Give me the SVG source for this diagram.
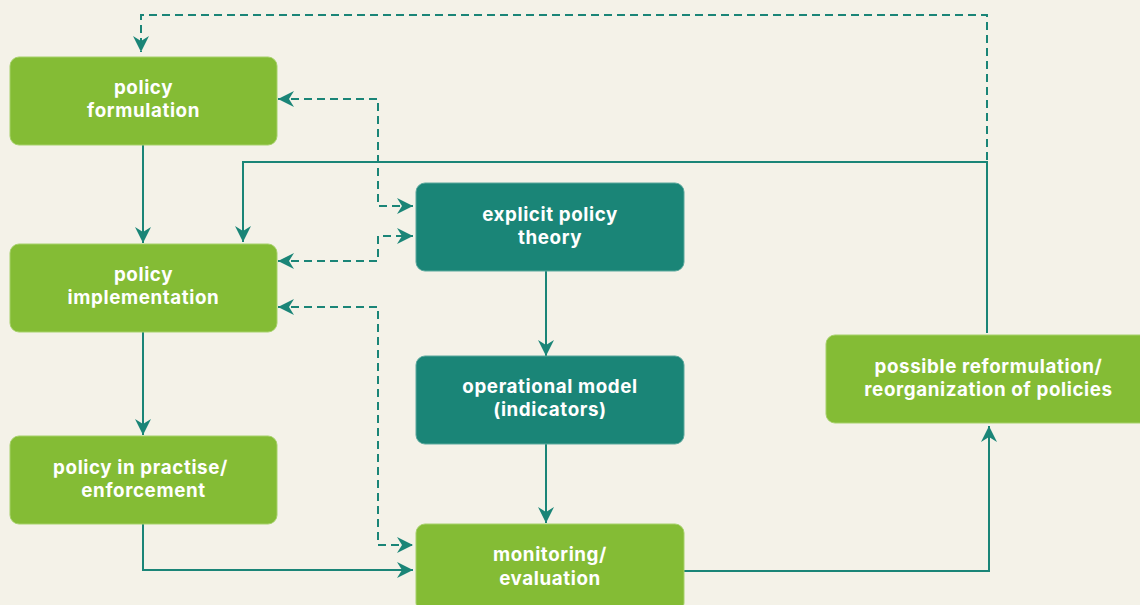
<svg xmlns="http://www.w3.org/2000/svg" width="1140" height="605" viewBox="0 0 1140 605">
<style>
.bg{fill:#f4f2e8}
.g{fill:#84bc35;stroke:#a6d16a;stroke-width:1}
.t{fill:#1a8577;stroke:#5aa89d;stroke-width:1}
.lbl{font-family:"Inter","Open Sans","Liberation Sans",sans-serif;font-weight:bold;font-size:18.8px;letter-spacing:0.6px;fill:#ffffff;text-anchor:middle}
.c{fill:none;stroke:#1a8577;stroke-width:2}
.d{stroke-dasharray:8 5}
</style>
<defs>
<marker id="ah" markerUnits="userSpaceOnUse" markerWidth="18" markerHeight="18" viewBox="0 0 18 18" refX="17" refY="9" orient="auto-start-reverse">
<path d="M1,1 L17,9 L1,17 L6,9 Z" fill="#1a8577"/>
</marker>
</defs>
<rect class="bg" x="0" y="0" width="1140" height="605"/>
<g id="connectors">
<path class="c d" d="M987,160 V15 H141 V52" marker-end="url(#ah)"/>
<path class="c" d="M987,333 V162 H243 V242" marker-end="url(#ah)"/>
<path class="c" d="M143,145 V243" marker-end="url(#ah)"/>
<path class="c" d="M143,332 V435" marker-end="url(#ah)"/>
<path class="c" d="M143,524 V570 H413" marker-end="url(#ah)"/>
<path class="c d" d="M278,99 H378 V206 H413" marker-start="url(#ah)" marker-end="url(#ah)"/>
<path class="c d" d="M278,261 H378 V236 H413" marker-start="url(#ah)" marker-end="url(#ah)"/>
<path class="c d" d="M278,307 H378 V545 H413" marker-start="url(#ah)" marker-end="url(#ah)"/>
<path class="c" d="M546,271 V356" marker-end="url(#ah)"/>
<path class="c" d="M546,444 V523" marker-end="url(#ah)"/>
<path class="c" d="M684,571 H989 V426" marker-end="url(#ah)"/>
</g>
<g id="policy-formulation">
<rect class="g" x="10" y="57" width="267" height="88" rx="9"/>
<text class="lbl" x="143.5" y="94">policy</text>
<text class="lbl" x="143.5" y="117">formulation</text>
</g>
<g id="policy-implementation">
<rect class="g" x="10" y="244" width="267" height="88" rx="9"/>
<text class="lbl" x="143.5" y="281">policy</text>
<text class="lbl" x="143.5" y="304">implementation</text>
</g>
<g id="policy-in-practise">
<rect class="g" x="10" y="436" width="267" height="88" rx="9"/>
<text class="lbl" x="140.5" y="474">policy in practise/</text>
<text class="lbl" x="143.5" y="497">enforcement</text>
</g>
<g id="explicit-policy-theory">
<rect class="t" x="416" y="183" width="268" height="88" rx="9"/>
<text class="lbl" x="550" y="221">explicit policy</text>
<text class="lbl" x="550" y="244">theory</text>
</g>
<g id="operational-model">
<rect class="t" x="416" y="356" width="268" height="88" rx="9"/>
<text class="lbl" x="550" y="393">operational model</text>
<text class="lbl" x="550" y="416">(indicators)</text>
</g>
<g id="monitoring-evaluation">
<rect class="g" x="416" y="524" width="268" height="88" rx="9"/>
<text class="lbl" x="550" y="561">monitoring/</text>
<text class="lbl" x="550" y="585">evaluation</text>
</g>
<g id="possible-reformulation">
<rect class="g" x="826" y="335" width="330" height="88" rx="9"/>
<text class="lbl" x="988.5" y="373">possible reformulation/</text>
<text class="lbl" x="988.5" y="396">reorganization of policies</text>
</g>
</svg>
